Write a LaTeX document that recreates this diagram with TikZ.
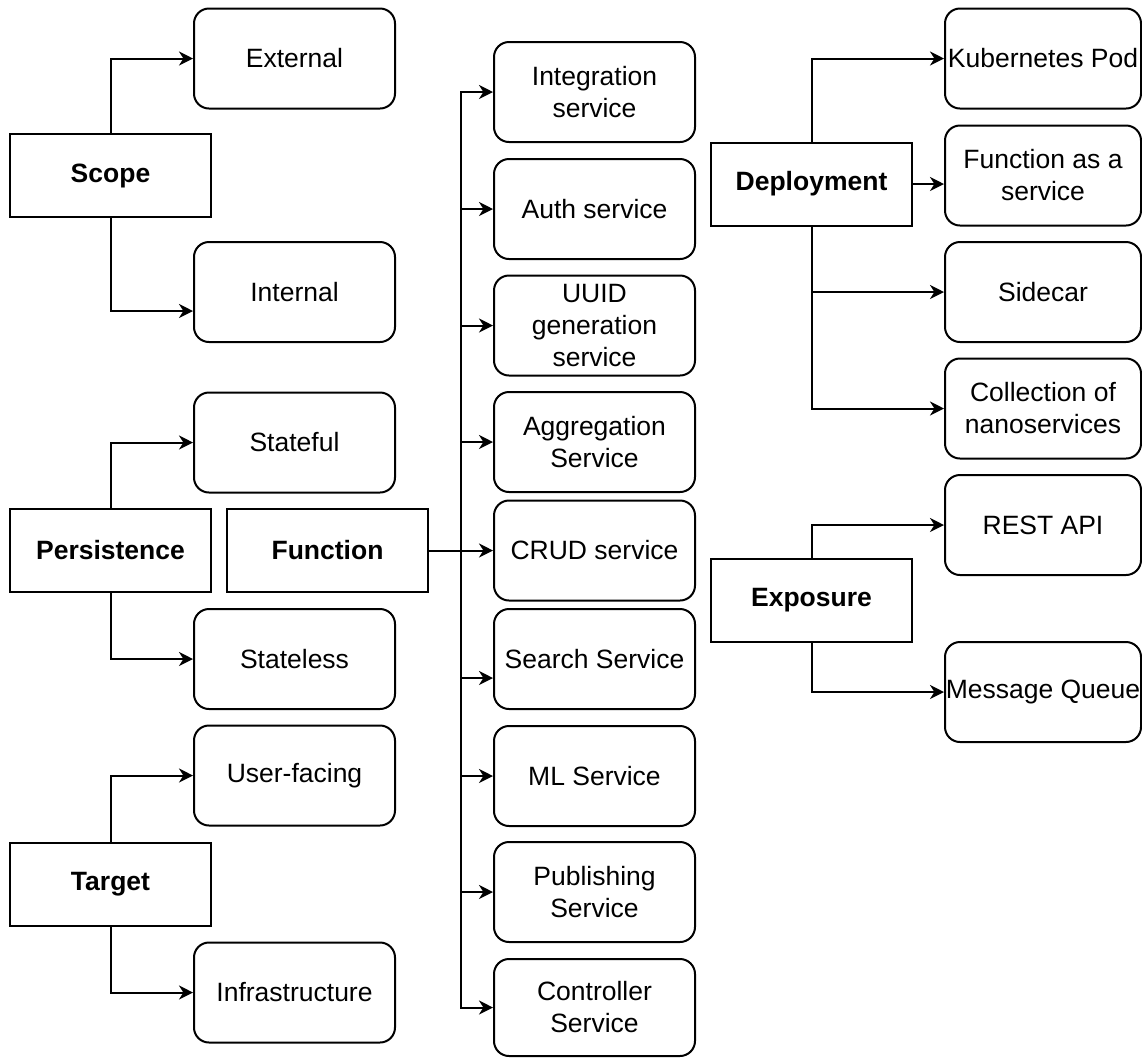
\documentclass[tikz,border=0pt]{standalone}
\usepackage{fontspec}
\setmainfont{Liberation Sans}
\usetikzlibrary{arrows.meta}
\begin{document}
\begin{tikzpicture}[x=0.5pt,y=-0.5pt,
  base/.style={draw=black, line width=1pt, inner sep=0pt, align=center,
    font=\fontsize{13.25}{16}\selectfont, minimum width=100.5pt},
  catbox/.style={base, rectangle, minimum height=41.5pt,
    font=\fontsize{13.25}{16}\selectfont\bfseries},
  itembox/.style={base, rounded corners=7.5pt, minimum height=50pt},
  rightbox/.style={itembox, minimum width=98pt},
  conn/.style={draw=black, line width=1pt,
    -{Stealth[length=7pt,width=7pt,inset=2.2pt]}}
]
\useasboundingbox (0,0) rectangle (1142,1057);

% left column
\node[catbox] (scope) at (110.5,175.5) {Scope};
\node[itembox] (external) at (294.5,58.5) {External};
\node[itembox] (internal) at (294.5,292) {Internal};
\node[catbox] (persistence) at (110.5,550.5) {Persistence};
\node[itembox] (stateful) at (294.5,442.5) {Stateful};
\node[itembox] (stateless) at (294.5,659) {Stateless};
\node[catbox] (target) at (110.5,884) {Target};
\node[itembox] (userfacing) at (294.5,775.5) {User-facing};
\node[itembox] (infra) at (294.5,992.5) {Infrastructure};

% function column
\node[catbox] (function) at (327.5,550.5) {Function};
\node[itembox] (integration) at (594.5,92) {Integration\\service};
\node[itembox] (auth) at (594.5,209) {Auth service};
\node[itembox] (uuid) at (594.5,325.5) {UUID\\generation\\service};
\node[itembox] (aggregation) at (594.5,442) {Aggregation\\Service};
\node[itembox] (crud) at (594.5,550.5) {CRUD service};
\node[itembox] (search) at (594.5,659) {Search Service};
\node[itembox] (ml) at (594.5,776) {ML Service};
\node[itembox] (publishing) at (594.5,892) {Publishing\\Service};
\node[itembox, minimum height=48.5pt] (controller) at (594.5,1007.5) {Controller\\Service};
\coordinate (trunk) at (461,550.5);

% right column
\node[catbox] (deployment) at (811.5,184) {Deployment};
\node[rightbox] (kube) at (1043,58.5) {Kubernetes Pod};
\node[rightbox] (faas) at (1043,175.5) {Function as a\\service};
\node[rightbox] (sidecar) at (1043,292) {Sidecar};
\node[rightbox] (collection) at (1043,408.5) {Collection of\\nanoservices};
\node[catbox] (exposure) at (811.5,600.5) {Exposure};
\node[rightbox] (rest) at (1043,525) {REST API};
\node[rightbox] (mq) at (1043,692) {Message Queue};

% connectors
\draw[conn] (scope.north) |- (external.west);
\draw[conn] (scope.south) |- ([yshift=-9.5pt]internal.west);
\draw[conn] (persistence.north) |- (stateful.west);
\draw[conn] (persistence.south) |- (stateless.west);
\draw[conn] (target.north) |- (userfacing.west);
\draw[conn] (target.south) |- (infra.west);

\draw[conn] (function.east) -- (trunk) |- (integration.west);
\draw[conn] (function.east) -- (trunk) |- (auth.west);
\draw[conn] (function.east) -- (trunk) |- (uuid.west);
\draw[conn] (function.east) -- (trunk) |- (aggregation.west);
\draw[conn] (function.east) -- (crud.west);
\draw[conn] (function.east) -- (trunk) |- ([yshift=-9.5pt]search.west);
\draw[conn] (function.east) -- (trunk) |- (ml.west);
\draw[conn] (function.east) -- (trunk) |- (publishing.west);
\draw[conn] (function.east) -- (trunk) |- (controller.west);

\draw[conn] (deployment.north) |- (kube.west);
\draw[conn] (deployment.east) -- (deployment.east -| faas.west);
\draw[conn] (deployment.south) |- (sidecar.west);
\draw[conn] (deployment.south) |- (collection.west);
\draw[conn] (exposure.north) |- (rest.west);
\draw[conn] (exposure.south) |- (mq.west);
\end{tikzpicture}
\end{document}
